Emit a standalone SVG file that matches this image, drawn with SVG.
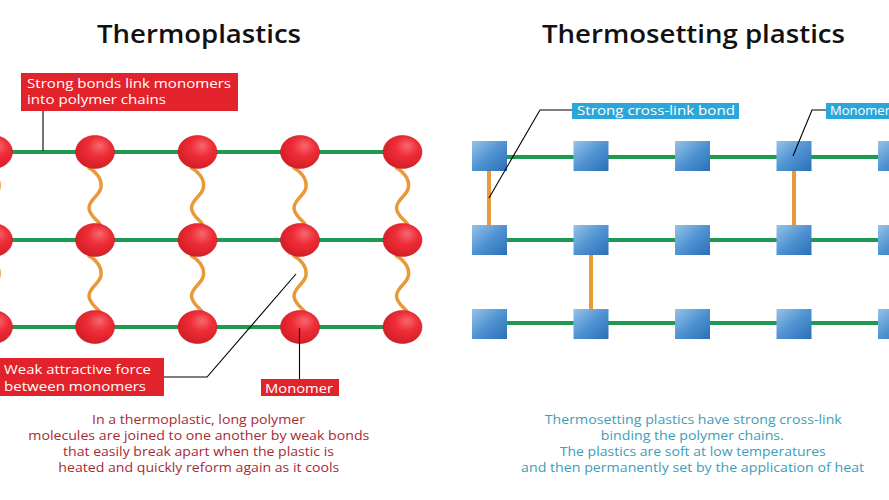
<svg xmlns="http://www.w3.org/2000/svg" width="889" height="500" viewBox="0 0 889 500">
<style>
text{font-family:"Open Sans","Liberation Sans",sans-serif}
.title{font-size:25px;fill:#111;font-weight:600}
.lbl{font-size:13px;fill:#fff}
.pl{font-size:12.5px;fill:#a92a32;text-anchor:middle}
.pr{font-size:12.5px;fill:#3e9db8;text-anchor:middle}
.bond{stroke:#1e9a50;stroke-width:4;fill:none}
.wave{stroke:#e89a38;stroke-width:3.5;fill:none;stroke-linecap:round}
.xl{stroke:#e89a38;stroke-width:4;fill:none}
.lead{stroke:#000;stroke-width:1.1;fill:none}
.rbox{fill:#e3232b}
.cbox{fill:#2aa7d8}
.mon{fill:url(#rg);stroke:#c81e26;stroke-width:0.6}
.sq{fill:url(#bg)}
</style>
<defs>
<radialGradient id="rg" cx="0.58" cy="0.4" r="0.65" fx="0.62" fy="0.3">
<stop offset="0" stop-color="#f76870"/>
<stop offset="0.45" stop-color="#ee2d37"/>
<stop offset="1" stop-color="#d21c25"/>
</radialGradient>
<linearGradient id="bg" x1="0" y1="0" x2="1" y2="1">
<stop offset="0" stop-color="#97c3e8"/>
<stop offset="0.5" stop-color="#4f93d2"/>
<stop offset="1" stop-color="#2a6fb6"/>
</linearGradient>
<path id="wv" d="M -6,0 C 0,3 7,10 6,19 C 5,28 -6,31 -6,40 C -6,47 2,52 5,56"/>
</defs>
<rect width="889" height="500" fill="#fff"/>

<text class="title" x="97" y="43" textLength="204" lengthAdjust="spacingAndGlyphs">Thermoplastics</text>
<text class="title" x="542" y="43" textLength="303" lengthAdjust="spacingAndGlyphs">Thermosetting plastics</text>

<g id="connectors">
<line class="bond" x1="0" y1="152" x2="402" y2="152"/>
<line class="bond" x1="0" y1="240" x2="402" y2="240"/>
<line class="bond" x1="0" y1="327" x2="402" y2="327"/>
<g class="wave">
<use href="#wv" x="-7" y="168"/><use href="#wv" x="95" y="168"/><use href="#wv" x="197.5" y="168"/><use href="#wv" x="300" y="168"/><use href="#wv" x="402.5" y="168"/>
<use href="#wv" x="-7" y="256"/><use href="#wv" x="95" y="256"/><use href="#wv" x="197.5" y="256"/><use href="#wv" x="300" y="256"/><use href="#wv" x="402.5" y="256"/>
</g>
<line class="bond" x1="489" y1="157" x2="889" y2="157"/>
<line class="bond" x1="489" y1="240" x2="889" y2="240"/>
<line class="bond" x1="489" y1="323" x2="889" y2="323"/>
<line class="xl" x1="489" y1="170" x2="489" y2="226"/>
<line class="xl" x1="794" y1="170" x2="794" y2="226"/>
<line class="xl" x1="591" y1="255" x2="591" y2="310"/>
</g>

<g id="thermoplastic-monomers">
<ellipse class="mon" cx="-7" cy="152" rx="19.5" ry="16.5"/><ellipse class="mon" cx="95" cy="152" rx="19.5" ry="16.5"/><ellipse class="mon" cx="197.5" cy="152" rx="19.5" ry="16.5"/><ellipse class="mon" cx="300" cy="152" rx="19.5" ry="16.5"/><ellipse class="mon" cx="402.5" cy="152" rx="19.5" ry="16.5"/>
<ellipse class="mon" cx="-7" cy="240" rx="19.5" ry="16.5"/><ellipse class="mon" cx="95" cy="240" rx="19.5" ry="16.5"/><ellipse class="mon" cx="197.5" cy="240" rx="19.5" ry="16.5"/><ellipse class="mon" cx="300" cy="240" rx="19.5" ry="16.5"/><ellipse class="mon" cx="402.5" cy="240" rx="19.5" ry="16.5"/>
<ellipse class="mon" cx="-7" cy="327" rx="19.5" ry="16.5"/><ellipse class="mon" cx="95" cy="327" rx="19.5" ry="16.5"/><ellipse class="mon" cx="197.5" cy="327" rx="19.5" ry="16.5"/><ellipse class="mon" cx="300" cy="327" rx="19.5" ry="16.5"/><ellipse class="mon" cx="402.5" cy="327" rx="19.5" ry="16.5"/>
</g>

<g id="thermoset-monomers">
<rect class="sq" x="472" y="141" width="35" height="30"/><rect class="sq" x="573.5" y="141" width="35" height="30"/><rect class="sq" x="675" y="141" width="35" height="30"/><rect class="sq" x="776.5" y="141" width="35" height="30"/><rect class="sq" x="878" y="141" width="35" height="30"/>
<rect class="sq" x="472" y="225" width="35" height="30"/><rect class="sq" x="573.5" y="225" width="35" height="30"/><rect class="sq" x="675" y="225" width="35" height="30"/><rect class="sq" x="776.5" y="225" width="35" height="30"/><rect class="sq" x="878" y="225" width="35" height="30"/>
<rect class="sq" x="472" y="309" width="35" height="30"/><rect class="sq" x="573.5" y="309" width="35" height="30"/><rect class="sq" x="675" y="309" width="35" height="30"/><rect class="sq" x="776.5" y="309" width="35" height="30"/><rect class="sq" x="878" y="309" width="35" height="30"/>
</g>

<g id="label-strong-bonds">
<line class="lead" x1="43" y1="111" x2="43" y2="151"/>
<rect class="rbox" x="21" y="73" width="217" height="38"/>
<text class="lbl" x="27" y="87.5" textLength="204" lengthAdjust="spacingAndGlyphs">Strong bonds link monomers</text>
<text class="lbl" x="27" y="104" textLength="139" lengthAdjust="spacingAndGlyphs">into polymer chains</text>
</g>

<g id="label-weak-force">
<polyline class="lead" points="164,377 207,377 296,274"/>
<rect class="rbox" x="0" y="358" width="164" height="38"/>
<text class="lbl" x="4" y="374" textLength="147" lengthAdjust="spacingAndGlyphs">Weak attractive force</text>
<text class="lbl" x="4" y="391" textLength="142" lengthAdjust="spacingAndGlyphs">between monomers</text>
</g>

<g id="label-monomer-left">
<line class="lead" x1="299.5" y1="328" x2="299.5" y2="379"/>
<rect class="rbox" x="261" y="379" width="78" height="17"/>
<text class="lbl" x="265" y="392.5" textLength="68" lengthAdjust="spacingAndGlyphs">Monomer</text>
</g>

<g id="label-cross-link">
<polyline class="lead" points="572,110 540,110 489,198"/>
<rect class="cbox" x="572" y="103" width="167" height="16"/>
<text class="lbl" x="577" y="115" textLength="158" lengthAdjust="spacingAndGlyphs">Strong cross-link bond</text>
</g>

<g id="label-monomer-right">
<polyline class="lead" points="826,110 812,110 793,156"/>
<rect class="cbox" x="826" y="103" width="80" height="16"/>
<text class="lbl" x="830" y="115">Monomer</text>
</g>

<g id="text-thermoplastic">
<text class="pl" x="198.5" y="423.5" textLength="213" lengthAdjust="spacingAndGlyphs">In a thermoplastic, long polymer</text>
<text class="pl" x="198.8" y="439.5" textLength="341" lengthAdjust="spacingAndGlyphs">molecules are joined to one another by weak bonds</text>
<text class="pl" x="198.5" y="455.5" textLength="271" lengthAdjust="spacingAndGlyphs">that easily break apart when the plastic is</text>
<text class="pl" x="198.8" y="471.5" textLength="281" lengthAdjust="spacingAndGlyphs">heated and quickly reform again as it cools</text>
</g>

<g id="text-thermoset">
<text class="pr" x="693.3" y="424" textLength="297" lengthAdjust="spacingAndGlyphs">Thermosetting plastics have strong cross-link</text>
<text class="pr" x="692.3" y="440" textLength="183" lengthAdjust="spacingAndGlyphs">binding the polymer chains.</text>
<text class="pr" x="692.8" y="456" textLength="266" lengthAdjust="spacingAndGlyphs">The plastics are soft at low temperatures</text>
<text class="pr" x="692.6" y="472" textLength="343" lengthAdjust="spacingAndGlyphs">and then permanently set by the application of heat</text>
</g>
</svg>
